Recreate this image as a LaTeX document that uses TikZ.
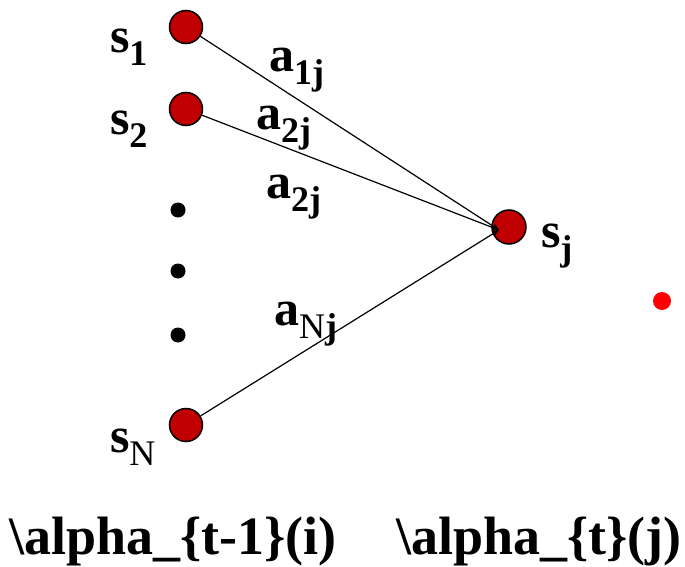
\documentclass[tikz,border=0pt]{standalone}
\usepackage{fontspec}
\setmainfont{Liberation Serif}
\usetikzlibrary{arrows.meta}
\definecolor{nodered}{HTML}{C00000}
\definecolor{dotred}{HTML}{FF0000}
\newcommand\mylab[2]{\fontsize{50}{50}\selectfont\bfseries #1\raisebox{-13pt}{\fontsize{36}{36}\selectfont #2}}
\begin{document}
\begin{tikzpicture}[x=1pt,y=-1pt,
  state/.style={circle,draw=black,line width=1.5pt,fill=nodered,minimum size=33pt,inner sep=0pt},
  bigdot/.style={circle,fill=black,minimum size=15pt,inner sep=0pt},
  lab/.style={anchor=base west,inner sep=0pt,outer sep=0pt},
  bottomlab/.style={anchor=base west,inner sep=0pt,font=\fontsize{54}{54}\selectfont\bfseries},
  edge/.style={line width=1.2pt,-{Stealth[length=7pt,width=6pt,open]}}]
\useasboundingbox (0,0) rectangle (685,567);
\node[state] (s1) at (186,27) {};
\node[state] (s2) at (186,109) {};
\node[state] (sN) at (186,425) {};
\node[state,minimum size=34pt] (sj) at (509,227) {};
\coordinate (tip) at (499,230);
\node[bigdot] (d1) at (178,210) {};
\node[bigdot] (d2) at (178,271) {};
\node[bigdot] (d3) at (178,335) {};
\node[circle,fill=dotred,minimum size=18pt,inner sep=0pt] (rd) at (662,301) {};
\draw[edge] (s1) -- (tip);
\draw[edge] (s2) -- (tip);
\draw[edge] (sN) -- (tip);
\node[lab] (l1) at (110,53) {\mylab{s}{1}};
\node[lab] (l2) at (110,135) {\mylab{s}{2}};
\node[lab] (lN) at (110,452) {\mylab{s}{\mdseries N}};
\node[lab] (lj) at (541,247) {\mylab{s}{j}};
\node[lab] (a1) at (269,72) {\mylab{a}{1j}};
\node[lab] (a2) at (256,130) {\mylab{a}{2j}};
\node[lab] (a3) at (266,198) {\mylab{a}{2j}};
\node[lab] (aN) at (274,325) {\mylab{a}{{\mdseries N}j}};
\node[bottomlab] (b1) at (9,554) {\textbackslash alpha\_\{t-1\}(i)};
\node[bottomlab] (b2) at (396,554) {\textbackslash alpha\_\{t\}(j)};
\end{tikzpicture}
\end{document}
